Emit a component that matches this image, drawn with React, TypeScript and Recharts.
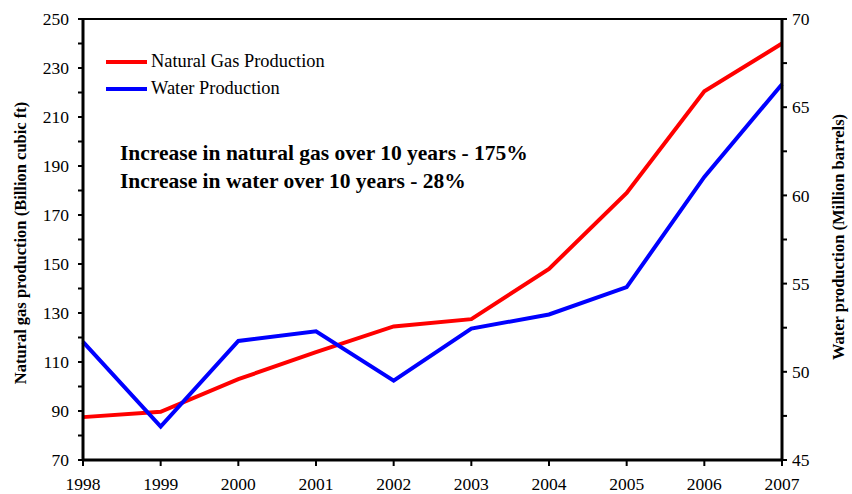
import { LineChart, Line, XAxis, YAxis, ReferenceLine, Legend } from 'recharts';

// years on the x axis
const years = ['1998', '1999', '2000', '2001', '2002', '2003', '2004', '2005', '2006', '2007'];
// natural gas production, billion cubic ft (left axis)
const gasProduction = [87.5, 89.7, 103, 114, 124.5, 127.5, 148, 179, 220.5, 240];
// water production, million barrels (right axis)
const waterProduction = [51.7, 46.9, 51.75, 52.3, 49.5, 52.45, 53.25, 54.8, 61.05, 66.3];

const leftTicks = [70, 80, 90, 100, 110, 120, 130, 140, 150, 160, 170, 180, 190, 200, 210, 220, 230, 240, 250];
const leftLabelled = [70, 90, 110, 130, 150, 170, 190, 210, 230, 250];
const rightTicks = [45, 47.5, 50, 52.5, 55, 57.5, 60, 62.5, 65, 67.5, 70];
const rightLabelled = [45, 50, 55, 60, 65, 70];

const notes = [
  'Increase in natural gas over 10 years - 175%',
  'Increase in water over 10 years - 28%',
];

const data = years.map((year, i) => ({
  year,
  gas: gasProduction[i],
  water: waterProduction[i],
}));

const FONT = '"Liberation Serif", "Times New Roman", serif';

const LegendBox = ({ payload }: any) => (
  <div style={{ fontFamily: FONT, fontSize: 18.4, color: '#000' }}>
    {(payload || []).map((p: any) => (
      <div key={p.value} style={{ display: 'flex', alignItems: 'center', height: 27 }}>
        <span style={{ display: 'inline-block', width: 41, height: 4, background: p.color, marginRight: 4 }} />
        <span>{p.value}</span>
      </div>
    ))}
  </div>
);

const LeftTitle = () => (
  <text
    x={20}
    y={243}
    transform="rotate(-90, 20, 243)"
    textAnchor="middle"
    dominantBaseline="central"
    fontFamily={FONT}
    fontWeight="bold"
    fontSize={16.5}
    fill="#000"
  >
    Natural gas production (Billion cubic ft)
  </text>
);

const RightTitle = () => (
  <text
    x={838}
    y={237}
    transform="rotate(-90, 838, 237)"
    textAnchor="middle"
    dominantBaseline="central"
    fontFamily={FONT}
    fontWeight="bold"
    fontSize={16.5}
    fill="#000"
  >
    Water production (Million barrels)
  </text>
);

const tickStyle = { fill: '#000', fontSize: 17.5, fontFamily: FONT };

export default function App() {
  return (
    <div style={{ position: 'absolute', left: 0, top: 0, width: 852, height: 494, background: '#fff' }}>
      <LineChart width={852} height={494} data={data} margin={{ top: 19, right: 0, bottom: 0, left: 0 }}>
        <XAxis
          dataKey="year"
          height={34}
          padding={{ left: 0, right: 0 }}
          axisLine={{ stroke: '#000', strokeWidth: 3 }}
          tickLine={{ stroke: '#000', strokeWidth: 2 }}
          tickSize={6}
          tickMargin={12}
          tick={tickStyle}
          interval={0}
        />
        <YAxis
          yAxisId="left"
          orientation="left"
          width={83}
          domain={[70, 250]}
          ticks={leftTicks}
          interval={0}
          tickFormatter={(v: number) => (leftLabelled.includes(v) ? String(v) : '')}
          axisLine={{ stroke: '#000', strokeWidth: 3 }}
          tickLine={{ stroke: '#000', strokeWidth: 2 }}
          tickSize={5}
          tickMargin={9}
          tick={tickStyle}
          label={<LeftTitle />}
        />
        <YAxis
          yAxisId="right"
          orientation="right"
          width={70}
          domain={[45, 70]}
          ticks={rightTicks}
          interval={0}
          tickFormatter={(v: number) => (rightLabelled.includes(v) ? String(v) : '')}
          axisLine={{ stroke: '#000', strokeWidth: 3 }}
          tickLine={{ stroke: '#000', strokeWidth: 2 }}
          tickSize={5}
          tickMargin={5}
          tick={tickStyle}
          label={<RightTitle />}
        />
        <ReferenceLine yAxisId="left" y={250} stroke="#000" strokeWidth={2} />
        <Legend
          layout="vertical"
          align="center"
          verticalAlign="middle"
          content={<LegendBox />}
          wrapperStyle={{ position: 'absolute', left: 106, top: 48, width: 280 }}
        />
        <Line
          yAxisId="left"
          type="linear"
          dataKey="gas"
          name="Natural Gas Production"
          stroke="#ff0000"
          strokeWidth={4}
          dot={false}
          isAnimationActive={false}
        />
        <Line
          yAxisId="right"
          type="linear"
          dataKey="water"
          name="Water Production"
          stroke="#0000ff"
          strokeWidth={4}
          dot={false}
          isAnimationActive={false}
        />
      </LineChart>
      <div
        style={{
          position: 'absolute',
          left: 120,
          top: 139,
          fontFamily: FONT,
          fontWeight: 'bold',
          fontSize: 21.5,
          lineHeight: '28px',
          color: '#000',
          whiteSpace: 'nowrap',
        }}
      >
        {notes.map((n) => (
          <div key={n}>{n}</div>
        ))}
      </div>
    </div>
  );
}
